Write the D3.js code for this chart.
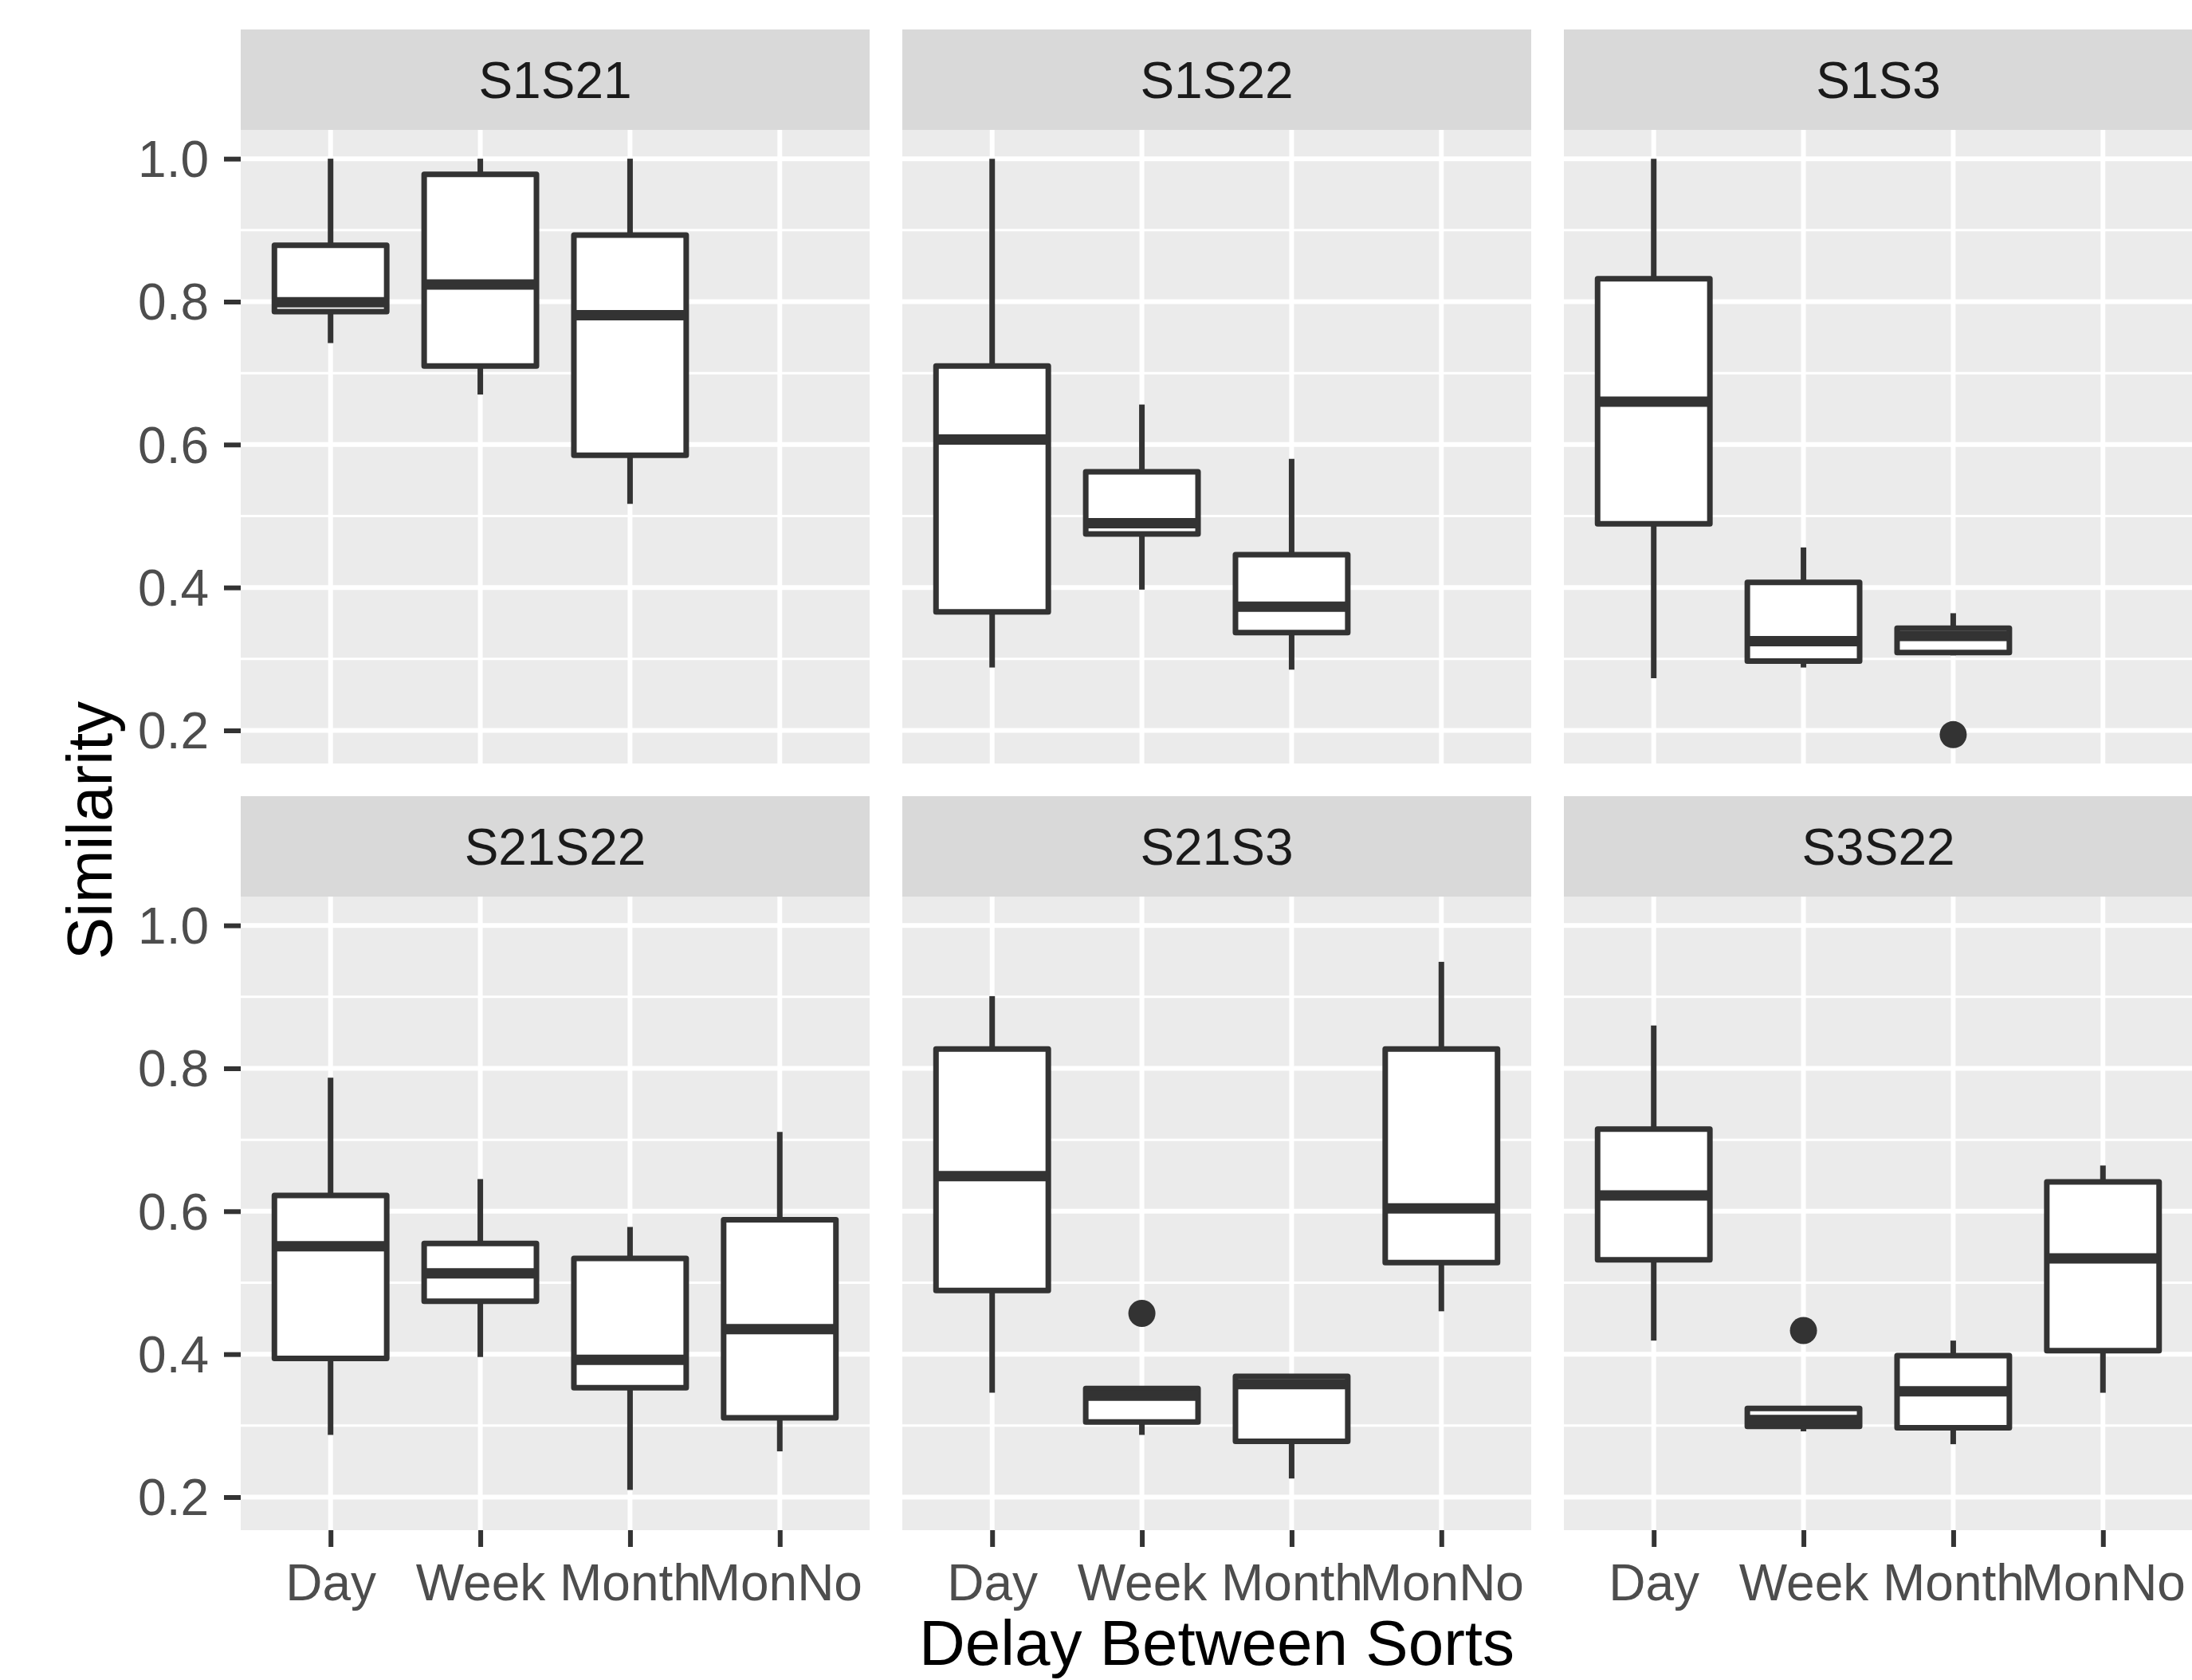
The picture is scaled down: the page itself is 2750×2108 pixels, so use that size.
<!DOCTYPE html>
<html>
<head>
<meta charset="utf-8">
<script src="https://cdn.jsdelivr.net/npm/d3@7"></script>
<style>
  body { margin: 0; background: #fff; }
  text { font-family: "Liberation Sans", Arial, Helvetica, sans-serif; }
</style>
</head>
<body>
<div id="chart"></div>
<script>
// facet names, categories and ticks
var panels = ["S1S21", "S1S22", "S1S3", "S21S22", "S21S3", "S3S22"];
var delays = ["Day", "Week", "Month", "MonNo"];
var yTicks = [0.2, 0.4, 0.6, 0.8, 1.0];
var yMinor = [0.3, 0.5, 0.7, 0.9];

// box stats per panel (rows) and delay (columns)
var whiskerLow = [
  [0.742, 0.670, 0.517, null],
  [0.288, 0.397, 0.285, null],
  [0.273, 0.288, 0.305, null],
  [0.287, 0.396, 0.210, 0.264],
  [0.346, 0.287, 0.226, 0.460],
  [0.419, 0.292, 0.274, 0.346]
];
var q1 = [
  [0.786, 0.710, 0.585, null],
  [0.366, 0.475, 0.337, null],
  [0.489, 0.297, 0.309, null],
  [0.394, 0.474, 0.353, 0.311],
  [0.489, 0.305, 0.278, 0.528],
  [0.532, 0.299, 0.297, 0.405]
];
var medians = [
  [0.799, 0.824, 0.781, null],
  [0.607, 0.490, 0.373, null],
  [0.660, 0.325, 0.332, null],
  [0.551, 0.513, 0.392, 0.435],
  [0.649, 0.342, 0.358, 0.604],
  [0.622, 0.308, 0.348, 0.534]
];
var q3 = [
  [0.879, 0.978, 0.893, null],
  [0.710, 0.562, 0.446, null],
  [0.832, 0.407, 0.343, null],
  [0.622, 0.555, 0.534, 0.588],
  [0.827, 0.352, 0.369, 0.827],
  [0.715, 0.324, 0.398, 0.641]
];
var whiskerHigh = [
  [1.0, 1.0, 1.0, null],
  [1.0, 0.656, 0.580, null],
  [1.0, 0.456, 0.364, null],
  [0.787, 0.645, 0.578, 0.711],
  [0.901, 0.352, 0.369, 0.949],
  [0.860, 0.324, 0.419, 0.664]
];
var outliers = [
  {panel: "S1S3", delay: "Month", value: 0.194},
  {panel: "S21S3", delay: "Week", value: 0.457},
  {panel: "S3S22", delay: "Week", value: 0.433}
];

// layout
var W = 2750, H = 2108;
var left = 302, panelW = 789, gap = 41;
var stripTop = 37, stripH = 126, panelH = 795;
var ink = "#333333";

var svg = d3.select("#chart").append("svg")
  .attr("width", W)
  .attr("height", H);

// scales
var allVals = d3.merge(whiskerLow.concat(whiskerHigh)).filter(function(d) { return d != null; })
  .concat(outliers.map(function(d) { return d.value; }));
var lo = d3.min(allVals), hi = d3.max(allVals), pad = (hi - lo) * 0.05;
var y = d3.scaleLinear().domain([lo - pad, hi + pad]).range([panelH, 0]);
var x = d3.scalePoint().domain(delays).range([0, panelW]).padding(0.6);
var boxW = x.step() * 0.75;

panels.forEach(function(name, i) {
  var col = i % 3, row = Math.floor(i / 3);
  var px = left + col * (panelW + gap);
  var sy = stripTop + row * (stripH + panelH + gap);
  var py = sy + stripH;

  // strip
  svg.append("rect")
    .attr("x", px).attr("y", sy)
    .attr("width", panelW).attr("height", stripH)
    .attr("fill", "#D9D9D9");
  svg.append("text")
    .attr("x", px + panelW / 2).attr("y", sy + stripH / 2)
    .attr("dy", "0.36em")
    .attr("text-anchor", "middle")
    .attr("font-size", 64)
    .attr("fill", "#1A1A1A")
    .text(name);

  var g = svg.append("g").attr("transform", "translate(" + px + "," + py + ")");

  g.append("rect")
    .attr("width", panelW).attr("height", panelH)
    .attr("fill", "#EBEBEB");

  // grid
  g.selectAll(".minor").data(yMinor).enter().append("line")
    .attr("x1", 0).attr("x2", panelW)
    .attr("y1", function(d) { return y(d); }).attr("y2", function(d) { return y(d); })
    .attr("stroke", "#fff").attr("stroke-width", 3);
  g.selectAll(".major").data(yTicks).enter().append("line")
    .attr("x1", 0).attr("x2", panelW)
    .attr("y1", function(d) { return y(d); }).attr("y2", function(d) { return y(d); })
    .attr("stroke", "#fff").attr("stroke-width", 6);
  g.selectAll(".vgrid").data(delays).enter().append("line")
    .attr("x1", function(d) { return x(d); }).attr("x2", function(d) { return x(d); })
    .attr("y1", 0).attr("y2", panelH)
    .attr("stroke", "#fff").attr("stroke-width", 6);

  // boxes
  var boxes = delays.map(function(d, j) {
    return {delay: d, lo: whiskerLow[i][j], q1: q1[i][j], med: medians[i][j], q3: q3[i][j], hi: whiskerHigh[i][j]};
  }).filter(function(d) { return d.med != null; });

  var bx = g.selectAll(".box").data(boxes).enter().append("g");
  bx.append("line")
    .attr("x1", function(d) { return x(d.delay); }).attr("x2", function(d) { return x(d.delay); })
    .attr("y1", function(d) { return y(d.hi); }).attr("y2", function(d) { return y(d.q3); })
    .attr("stroke", ink).attr("stroke-width", 7);
  bx.append("line")
    .attr("x1", function(d) { return x(d.delay); }).attr("x2", function(d) { return x(d.delay); })
    .attr("y1", function(d) { return y(d.q1); }).attr("y2", function(d) { return y(d.lo); })
    .attr("stroke", ink).attr("stroke-width", 7);
  bx.append("rect")
    .attr("x", function(d) { return x(d.delay) - boxW / 2; })
    .attr("y", function(d) { return y(d.q3); })
    .attr("width", boxW)
    .attr("height", function(d) { return y(d.q1) - y(d.q3); })
    .attr("fill", "#fff").attr("stroke", ink).attr("stroke-width", 7)
    .attr("stroke-linejoin", "round");
  bx.append("line")
    .attr("x1", function(d) { return x(d.delay) - boxW / 2; })
    .attr("x2", function(d) { return x(d.delay) + boxW / 2; })
    .attr("y1", function(d) { return y(d.med); }).attr("y2", function(d) { return y(d.med); })
    .attr("stroke", ink).attr("stroke-width", 13);

  g.selectAll(".out").data(outliers.filter(function(o) { return o.panel == name; }))
    .enter().append("circle")
    .attr("cx", function(d) { return x(d.delay); })
    .attr("cy", function(d) { return y(d.value); })
    .attr("r", 17)
    .attr("fill", ink);

  // axes on outer panels only
  if (col == 0) {
    var ya = g.append("g")
      .call(d3.axisLeft(y).tickValues(yTicks).tickFormat(d3.format(".1f")).tickSize(21).tickPadding(19));
    ya.select(".domain").remove();
    ya.selectAll("line").attr("stroke", ink).attr("stroke-width", 6);
    ya.selectAll("text").attr("font-size", 64).attr("fill", "#4D4D4D").attr("dy", "0.35em")
      .attr("font-family", null);
  }
  if (row == 1) {
    var xa = g.append("g")
      .attr("transform", "translate(0," + panelH + ")")
      .call(d3.axisBottom(x).tickSize(21).tickPadding(22));
    xa.select(".domain").remove();
    xa.selectAll("line").attr("stroke", ink).attr("stroke-width", 6);
    xa.selectAll("text").attr("font-size", 64).attr("fill", "#4D4D4D")
      .attr("font-family", null);
  }
});

// axis titles
svg.append("text")
  .attr("transform", "translate(140,1042) rotate(-90)")
  .attr("text-anchor", "middle")
  .attr("font-size", 80)
  .attr("fill", "#000")
  .text("Similarity");

svg.append("text")
  .attr("x", left + (3 * panelW + 2 * gap) / 2)
  .attr("y", 2089)
  .attr("text-anchor", "middle")
  .attr("font-size", 80)
  .attr("fill", "#000")
  .text("Delay Between Sorts");
</script>
</body>
</html>
